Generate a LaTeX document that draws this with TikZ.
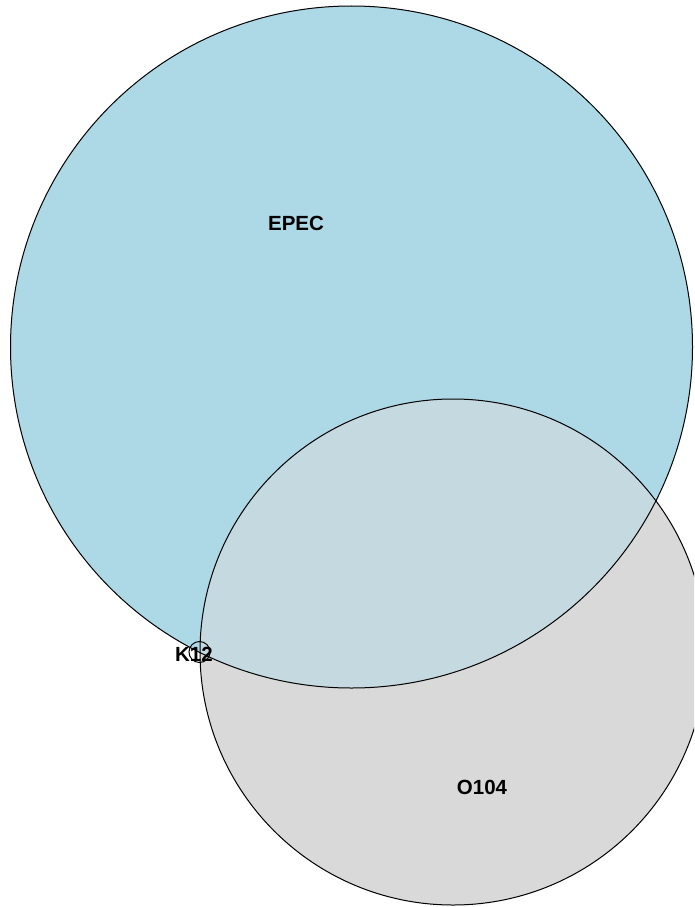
\documentclass[tikz,border=0pt]{standalone}
\usepackage{fontspec}
\setmainfont{Liberation Sans}
\definecolor{epecfill}{RGB}{173,216,230}
\definecolor{ofill}{RGB}{217,217,217}
\definecolor{bothfill}{RGB}{196,217,224}
\tikzset{
  outline/.style={draw=black, line width=1pt},
  setlabel/.style={font=\bfseries\fontsize{20.5}{24}\selectfont, inner sep=0pt}
}
\begin{document}
\begin{tikzpicture}[x=1pt,y=-1pt]
\useasboundingbox (0,0) rectangle (694,907);
\clip (0,0) rectangle (694,907);
\fill[white] (0,0) rectangle (694,907);
% fills
\fill[epecfill] (351.5,347) circle[radius=341];
\fill[ofill] (453,652) circle[radius=253];
\begin{scope}
  \clip (351.5,347) circle[radius=341];
  \fill[bothfill] (453,652) circle[radius=253];
\end{scope}
% outlines
\draw[outline] (351.5,347) circle[radius=341];
\draw[outline] (453,652) circle[radius=253];
\draw[outline] (199.5,652) circle[radius=10.5];
% labels
\node[setlabel] (epec) at (296,223) {EPEC};
\node[setlabel] (o104) at (482,787) {O104};
\node[setlabel] (k12) at (194,654) {K12};
\end{tikzpicture}
\end{document}
